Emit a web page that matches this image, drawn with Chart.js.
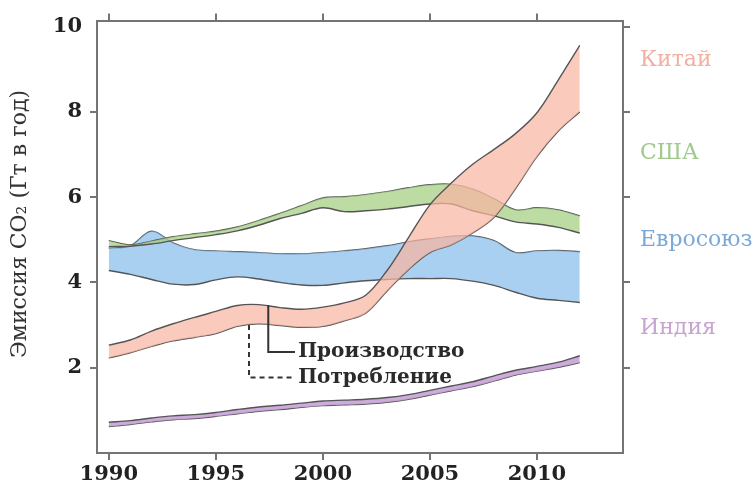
<!DOCTYPE html>
<html>
<head>
<meta charset="utf-8">
<script src="https://cdn.jsdelivr.net/npm/chart.js@4.4.1/dist/chart.umd.min.js"></script>
<style>
  html, body { margin: 0; padding: 0; background: #fff; }
</style>
</head>
<body>
<canvas id="chart" width="755" height="486"></canvas>
<script>
// --- DATA (Gt CO2 per year) ---
const years = [1990, 1991, 1992, 1993, 1994, 1995, 1996, 1997, 1998, 1999, 2000, 2001,
               2002, 2003, 2004, 2005, 2006, 2007, 2008, 2009, 2010, 2011, 2012];

const chinaProd = [2.53, 2.65, 2.86, 3.03, 3.18, 3.32, 3.46, 3.48, 3.41, 3.37, 3.42, 3.52,
                   3.70, 4.28, 5.05, 5.82, 6.33, 6.77, 7.12, 7.49, 7.98, 8.75, 9.56];
const chinaCons = [2.23, 2.35, 2.50, 2.63, 2.71, 2.80, 2.97, 3.03, 2.99, 2.95, 2.97, 3.10,
                   3.28, 3.80, 4.30, 4.70, 4.88, 5.16, 5.53, 6.20, 6.95, 7.55, 8.00];

const usaProd = [4.84, 4.85, 4.90, 4.98, 5.05, 5.12, 5.21, 5.34, 5.50, 5.62, 5.75, 5.66,
                 5.68, 5.72, 5.78, 5.84, 5.84, 5.68, 5.56, 5.42, 5.37, 5.29, 5.16];
const usaCons = [4.98, 4.88, 4.97, 5.07, 5.14, 5.20, 5.30, 5.45, 5.62, 5.80, 5.98, 6.01,
                 6.06, 6.13, 6.22, 6.29, 6.30, 6.19, 5.96, 5.70, 5.75, 5.70, 5.56];

const euProd = [4.28, 4.19, 4.07, 3.96, 3.95, 4.06, 4.13, 4.08, 4.00, 3.94, 3.93, 3.99,
                4.04, 4.07, 4.09, 4.09, 4.09, 4.03, 3.93, 3.77, 3.63, 3.58, 3.53];
const euCons = [4.80, 4.86, 5.20, 4.93, 4.77, 4.74, 4.72, 4.70, 4.67, 4.67, 4.70, 4.74,
                4.79, 4.86, 4.95, 5.02, 5.08, 5.09, 4.98, 4.70, 4.74, 4.75, 4.72];

const indiaProd = [0.72, 0.76, 0.82, 0.87, 0.90, 0.95, 1.02, 1.08, 1.12, 1.17, 1.22, 1.24,
                   1.26, 1.30, 1.37, 1.47, 1.57, 1.67, 1.81, 1.94, 2.03, 2.13, 2.28];
const indiaCons = [0.62, 0.67, 0.73, 0.78, 0.81, 0.86, 0.92, 0.98, 1.02, 1.07, 1.11, 1.13,
                   1.15, 1.19, 1.26, 1.36, 1.46, 1.56, 1.69, 1.83, 1.92, 2.01, 2.12];

const regionNames = ['Китай', 'США', 'Евросоюз', 'Индия'];
const regionLabelY = [9.2, 7.02, 4.98, 2.93];   // where the name sits on the value axis

const xTicks = [1990, 1995, 2000, 2005, 2010];
const yTicks = [2, 4, 6, 8, 10];

const yTitle = 'Эмиссия CO₂ (Гт в год)';
const prodText = 'Производство';
const consText = 'Потребление';

// --- STYLE ---
const serif = "'DejaVu Serif', serif";
const frame = '#747474';
const lineCol = '#555';
const fills = ['rgba(248,182,162,0.72)', 'rgba(166,208,134,0.75)', 'rgba(140,192,236,0.75)', 'rgba(200,162,214,0.9)'];
const nameCols = ['#f2b0a2', '#9fca8c', '#78a9d8', '#c8a4d0'];

const pts = arr => arr.map((v, i) => ({ x: years[i], y: v }));

function band(prod, cons, fill) {
    const common = { borderColor: lineCol, borderWidth: 1.4, pointRadius: 0, tension: 0.35 };
    return [
        { ...common, data: pts(prod), fill: '+1', backgroundColor: fill },
        { ...common, data: pts(cons), fill: false }
    ];
}

const datasets = [
    ...band(chinaProd, chinaCons, fills[0]),
    ...band(usaProd, usaCons, fills[1]),
    ...band(euProd, euCons, fills[2]),
    ...band(indiaProd, indiaCons, fills[3])
];

const xRange = { min: 1989.45, max: 2014.02 };
const yRange = { min: 0, max: 10.14 };
const setTicks = list => s => { s.ticks = list.map(v => ({ value: v })); };
const gridOpts = { drawOnChartArea: false, tickLength: 7, color: frame, lineWidth: 2 };
const borderOpts = { color: frame, width: 2 };
const tickFont = { family: serif, size: 21, weight: 'bold' };

// leader lines for the two captions (value-axis units)
const prodMark = { x: 1997.45, top: 3.47, bottom: 2.37 };
const consMark = { x: 1996.55, top: 3.0, bottom: 1.77 };
const markEnd = 1998.7, captionX = 1998.85;

const overlay = {
    id: 'overlay',
    afterDatasetsDraw(chart) {
        const { ctx, chartArea } = chart;
        const xs = chart.scales.x, ys = chart.scales.y;
        ctx.save();

        // captions with leader lines
        ctx.strokeStyle = '#333';
        ctx.lineWidth = 2;
        ctx.beginPath();
        ctx.moveTo(xs.getPixelForValue(prodMark.x), ys.getPixelForValue(prodMark.top));
        ctx.lineTo(xs.getPixelForValue(prodMark.x), ys.getPixelForValue(prodMark.bottom));
        ctx.lineTo(xs.getPixelForValue(markEnd), ys.getPixelForValue(prodMark.bottom));
        ctx.stroke();
        ctx.setLineDash([5, 4]);
        ctx.beginPath();
        ctx.moveTo(xs.getPixelForValue(consMark.x), ys.getPixelForValue(consMark.top));
        ctx.lineTo(xs.getPixelForValue(consMark.x), ys.getPixelForValue(consMark.bottom));
        ctx.lineTo(xs.getPixelForValue(markEnd), ys.getPixelForValue(consMark.bottom));
        ctx.stroke();
        ctx.setLineDash([]);

        ctx.fillStyle = '#2a2a2a';
        ctx.font = 'bold 20px ' + serif;
        ctx.textBaseline = 'middle';
        ctx.textAlign = 'left';
        ctx.fillText(prodText, xs.getPixelForValue(captionX), ys.getPixelForValue(prodMark.bottom));
        ctx.fillText(consText, xs.getPixelForValue(captionX), ys.getPixelForValue(consMark.bottom));

        // region names on the right
        ctx.font = '22px ' + serif;
        regionNames.forEach((name, i) => {
            ctx.fillStyle = nameCols[i];
            ctx.fillText(name, chartArea.right + 17, ys.getPixelForValue(regionLabelY[i]));
        });

        // y axis title
        ctx.translate(20, 224);
        ctx.rotate(-Math.PI / 2);
        ctx.textAlign = 'center';
        ctx.fillStyle = '#333';
        ctx.font = '22px ' + serif;
        ctx.fillText(yTitle, 0, 0);
        ctx.restore();
    }
};

new Chart(document.getElementById('chart'), {
    type: 'line',
    data: { datasets },
    plugins: [overlay],
    options: {
        responsive: false,
        animation: false,
        layout: { padding: 0 },
        plugins: { legend: { display: false }, tooltip: { enabled: false } },
        scales: {
            x: {
                type: 'linear', position: 'bottom', ...xRange,
                afterBuildTicks: setTicks(xTicks),
                afterFit: s => { s.height = 33; },
                ticks: { font: tickFont, color: '#222', padding: 2, maxRotation: 0, callback: v => String(v) },
                grid: gridOpts, border: borderOpts
            },
            xTop: {
                axis: 'x', type: 'linear', position: 'top', ...xRange,
                afterBuildTicks: setTicks(xTicks),
                afterFit: s => { s.height = 18; },
                ticks: { display: false },
                grid: gridOpts, border: borderOpts
            },
            y: {
                type: 'linear', position: 'left', ...yRange,
                afterBuildTicks: setTicks(yTicks),
                afterFit: s => { s.width = 97; },
                ticks: { font: tickFont, color: '#222', padding: 8 },
                grid: { ...gridOpts, color: c => (c.tick && c.tick.value === 10 ? 'rgba(0,0,0,0)' : frame) },
                border: borderOpts
            },
            yRight: {
                axis: 'y', type: 'linear', position: 'right', ...yRange,
                afterBuildTicks: setTicks(yTicks),
                afterFit: s => { s.width = 132; },
                ticks: { display: false },
                grid: gridOpts, border: borderOpts
            }
        }
    }
});
</script>
</body>
</html>
